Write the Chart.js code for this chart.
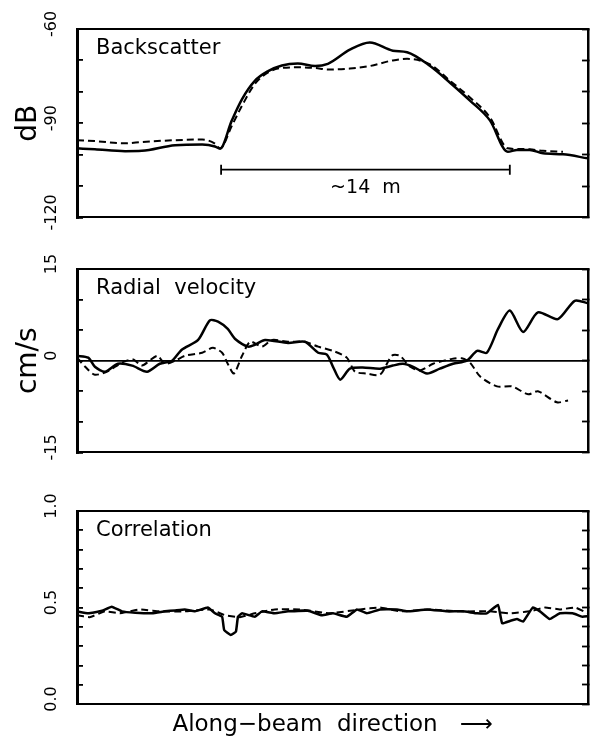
<!DOCTYPE html>
<html>
<head>
<meta charset="utf-8">
<script src="https://cdn.jsdelivr.net/npm/chart.js@4/dist/chart.umd.min.js"></script>
<style>
  body { margin: 0; background: #fff; }
  .panel { position: absolute; left: 0; }
</style>
</head>
<body>
<div class="panel" style="top:0"><canvas id="bsChart" width="599" height="240"></canvas></div>
<div class="panel" style="top:240px"><canvas id="velChart" width="599" height="240"></canvas></div>
<div class="panel" style="top:480px"><canvas id="corChart" width="599" height="259"></canvas></div>
<script>
  // along-beam position, 0 = left edge of plot, 100 = right edge
  const bsX = [0, 3.5, 9.4, 12.7, 19.2, 24.5, 27.0, 28.0, 30.3, 32.3, 34.8, 37.4, 40.1, 43.2, 46.6, 49.1, 53.4, 57.3, 61.8, 64.6, 69.1, 73.0, 76.9, 80.8, 84.3, 86.1, 88.6, 91.2, 95.1, 100];
  const bsSolid = [-98.0, -98.3, -98.9, -98.8, -97.0, -96.8, -97.4, -98.1, -89.1, -82.3, -76.5, -73.4, -71.6, -71.0, -71.8, -71.1, -66.6, -64.3, -66.9, -67.4, -71.8, -77.1, -82.8, -89.1, -99.1, -98.5, -98.5, -99.6, -99.9, -101.2];
  const bsDashed = [-95.4, -95.7, -96.4, -96.0, -95.4, -95.2, -96.5, -98.0, -90.8, -84.4, -77.5, -73.8, -72.4, -72.2, -72.4, -72.9, -72.6, -71.8, -70.0, -69.5, -71.3, -76.5, -81.8, -88.1, -98.0, -98.2, -98.3, -98.8, -99.1, null];
  const bsTicks = [-120, -90, -60];
  const bracketX = [28.2, 84.7];
  const bracketY = -104.8;
  const bracketLabelY = -110.6;

  const velSolidX = [0, 2.2, 3.5, 5.5, 8.0, 10.8, 13.7, 16.2, 18.6, 20.5, 23.7, 26.0, 27.6, 29.5, 30.9, 33.5, 34.8, 36.8, 41.3, 44.6, 47.2, 48.9, 50.1, 51.5, 53.4, 55.9, 59.3, 61.8, 63.8, 65.8, 68.5, 71.0, 73.6, 76.3, 78.3, 80.2, 82.4, 84.7, 87.3, 90.2, 94.1, 97.4, 100];
  const velSolid = [0.8, 0.5, -1.0, -1.8, -0.5, -0.8, -1.8, -0.5, 0, 1.8, 3.4, 6.6, 6.4, 5.2, 3.6, 2.3, 2.6, 3.4, 2.9, 3.1, 1.3, 1.0, -1.0, -3.1, -1.3, -1.1, -1.3, -0.8, -0.5, -1.0, -2.1, -1.3, -0.5, 0, 1.6, 1.3, 5.2, 8.2, 4.7, 7.9, 6.8, 9.8, 9.4];
  const velDashedX = [0, 1.6, 3.5, 6.1, 8.8, 11.0, 12.7, 15.7, 17.2, 19.2, 21.1, 24.5, 26.6, 28.4, 29.5, 30.7, 32.3, 33.9, 36.2, 38.2, 41.3, 44.6, 47.2, 50.1, 52.8, 54.4, 56.7, 59.3, 61.6, 63.2, 65.2, 67.1, 69.7, 73.4, 75.3, 76.9, 78.9, 82.2, 85.1, 88.3, 90.2, 93.9, 96.1];
  const velDashed = [0.5, -1.0, -2.3, -1.7, -0.3, 0.2, -0.8, 0.8, -0.5, 0, 0.8, 1.3, 2.1, 1.3, -0.5, -2.1, 0.8, 3.1, 2.3, 3.4, 3.1, 3.1, 2.3, 1.6, 0.5, -1.8, -2.1, -2.3, 0.8, 0.8, -1.0, -1.6, -0.5, 0.3, 0.4, -0.3, -2.6, -4.2, -4.2, -5.5, -5.0, -6.8, -6.5];
  const velTicks = [-15, 0, 15];

  const corSolidX = [0, 2.2, 4.9, 6.8, 8.8, 11.4, 14.7, 17.2, 19.2, 21.1, 23.1, 25.6, 27.0, 28.4, 28.8, 30.1, 31.1, 31.5, 32.3, 34.8, 36.2, 38.7, 41.3, 45.2, 47.9, 50.1, 52.8, 54.8, 56.7, 59.3, 62.6, 64.6, 68.5, 72.4, 75.5, 78.3, 80.2, 82.4, 83.2, 84.7, 86.1, 87.3, 89.2, 90.6, 92.5, 94.5, 97.0, 98.9, 100];
  const corSolid = [0.48, 0.47, 0.483, 0.504, 0.48, 0.473, 0.47, 0.48, 0.485, 0.49, 0.48, 0.50, 0.47, 0.452, 0.383, 0.357, 0.375, 0.452, 0.47, 0.452, 0.48, 0.47, 0.48, 0.483, 0.46, 0.47, 0.452, 0.49, 0.47, 0.49, 0.49, 0.48, 0.49, 0.48, 0.48, 0.47, 0.47, 0.513, 0.418, 0.43, 0.44, 0.427, 0.50, 0.48, 0.44, 0.47, 0.47, 0.452, 0.455];
  const corDashedX = [0, 2.5, 5.5, 8.4, 12.3, 16.2, 21.1, 26.0, 29.0, 31.9, 34.8, 38.7, 43.6, 49.5, 55.4, 59.3, 63.2, 69.1, 75.0, 80.8, 84.7, 88.6, 91.6, 94.5, 97.5, 100];
  const corDashed = [0.46, 0.45, 0.48, 0.47, 0.49, 0.48, 0.48, 0.49, 0.46, 0.45, 0.47, 0.49, 0.49, 0.47, 0.49, 0.50, 0.48, 0.49, 0.48, 0.48, 0.47, 0.48, 0.50, 0.49, 0.50, 0.47];
  const corTicks = [0, 0.5, 1];

  Chart.defaults.font.family = "'DejaVu Sans', sans-serif";
  Chart.defaults.color = "#000";

  function pts(xs, ys) {
    return xs.map((x, i) => ({ x: x, y: ys[i] }));
  }

  function line(data, dashed, tension) {
    return {
      data: data,
      borderColor: "#000",
      borderWidth: dashed ? 2 : 2.5,
      borderDash: dashed ? [7, 4] : [],
      pointRadius: 0,
      tension: tension,
      spanGaps: false,
    };
  }

  // panel name written inside the top-left corner
  const panelLabel = {
    id: "panelLabel",
    afterDraw(chart, args, opts) {
      const { ctx, chartArea } = chart;
      ctx.save();
      ctx.font = "21px 'DejaVu Sans'";
      ctx.fillStyle = "#000";
      ctx.fillText(opts.text, chartArea.left + 19, chartArea.top + 25);
      ctx.restore();
    },
  };

  // the ~14 m scale bar in the backscatter panel
  const scaleBar = {
    id: "scaleBar",
    afterDraw(chart) {
      const { ctx, scales } = chart;
      const x1 = scales.x.getPixelForValue(bracketX[0]);
      const x2 = scales.x.getPixelForValue(bracketX[1]);
      const y = scales.y.getPixelForValue(bracketY);
      ctx.save();
      ctx.strokeStyle = "#000";
      ctx.lineWidth = 1.8;
      ctx.beginPath();
      ctx.moveTo(x1, y);
      ctx.lineTo(x2, y);
      ctx.moveTo(x1, y - 5);
      ctx.lineTo(x1, y + 5);
      ctx.moveTo(x2, y - 5);
      ctx.lineTo(x2, y + 5);
      ctx.stroke();
      ctx.font = "19px 'DejaVu Sans'";
      ctx.fillStyle = "#000";
      ctx.textAlign = "center";
      ctx.textBaseline = "middle";
      ctx.fillText("~14  m", (x1 + x2) / 2, scales.y.getPixelForValue(bracketLabelY));
      ctx.restore();
    },
  };

  function makeScales(o) {
    return {
      x: {
        type: "linear",
        min: 0,
        max: 100,
        position: "bottom",
        afterFit: (s) => { s.height = o.xHeight || 0; },
        grid: { display: false },
        ticks: { display: false },
        border: { display: true, color: "#000", width: 2 },
        title: {
          display: !!o.xTitle,
          text: o.xTitle || "",
          font: { size: 23 },
          padding: { top: 0, bottom: 0 },
        },
      },
      x2: {
        type: "linear",
        min: 0,
        max: 100,
        position: "top",
        afterFit: (s) => { s.height = 0; },
        grid: { display: false },
        ticks: { display: false },
        border: { display: true, color: "#000", width: 2 },
      },
      y: {
        min: o.min,
        max: o.max,
        position: "left",
        afterFit: (s) => { s.width = 77; },
        border: { display: true, color: "#000", width: 3 },
        grid: {
          drawOnChartArea: !!o.zeroLine,
          tickLength: -6,
          tickWidth: 1.8,
          tickColor: "#000",
          lineWidth: 1.8,
          color: (c) => (o.zeroLine && c.tick && c.tick.value === 0 ? "#000" : "rgba(0,0,0,0)"),
        },
        ticks: {
          stepSize: o.step,
          autoSkip: false,
          minRotation: 90,
          maxRotation: 90,
          crossAlign: "center",
          padding: o.tickPad,
          labelOffset: -5,
          font: { size: 16 },
          callback: (v) => {
            const t = o.labels.find((l) => Math.abs(l - v) < 1e-6);
            return t === undefined ? "" : o.fmt(t);
          },
        },
        title: {
          display: !!o.yTitle,
          text: o.yTitle || "",
          font: { size: 28 },
          padding: { top: 12, bottom: 0 },
        },
      },
      y2: {
        min: o.min,
        max: o.max,
        position: "right",
        afterFit: (s) => { s.width = 11; },
        border: { display: true, color: "#000", width: 2.5 },
        grid: { drawOnChartArea: false, tickLength: -6, tickWidth: 1.8, tickColor: "#000" },
        ticks: { display: false, stepSize: o.step, autoSkip: false },
      },
    };
  }

  function makePanel(id, datasets, o, plugins) {
    return new Chart(document.getElementById(id), {
      type: "line",
      data: { datasets: datasets },
      options: {
        responsive: false,
        animation: false,
        layout: { padding: { top: o.padTop, bottom: o.padBottom, left: 0, right: 0 } },
        plugins: {
          legend: { display: false },
          tooltip: { enabled: false },
          panelLabel: { text: o.name },
        },
        scales: makeScales(o),
      },
      plugins: plugins,
    });
  }

  const bsChart = makePanel(
    "bsChart",
    [
      Object.assign(line(pts(bsX, bsSolid), false, 0), { cubicInterpolationMode: "monotone" }),
      Object.assign(line(pts(bsX, bsDashed), true, 0), { cubicInterpolationMode: "monotone" }),
    ],
    {
      name: "Backscatter", min: -120, max: -60, step: 10, labels: bsTicks,
      fmt: (t) => String(t), tickPad: 13, yTitle: "dB", padTop: 29, padBottom: 20,
    },
    [panelLabel, scaleBar]
  );

  const velChart = makePanel(
    "velChart",
    [
      line(pts(velSolidX, velSolid), false, 0.25),
      line(pts(velDashedX, velDashed), true, 0.25),
    ],
    {
      name: "Radial  velocity", min: -15, max: 15, step: 5, labels: velTicks,
      fmt: (t) => String(t), tickPad: 18, yTitle: "cm/s", zeroLine: true, padTop: 29, padBottom: 19,
    },
    [panelLabel]
  );

  const corChart = makePanel(
    "corChart",
    [
      line(pts(corSolidX, corSolid), false, 0.1),
      line(pts(corDashedX, corDashed), true, 0.1),
    ],
    {
      name: "Correlation", min: 0, max: 1, step: 0.1, labels: corTicks,
      fmt: (t) => t.toFixed(1), tickPad: 18, xTitle: "Along\u2212beam  direction   \u27F6",
      xHeight: 35, padTop: 31, padBottom: 0,
    },
    [panelLabel]
  );
</script>
</body>
</html>
